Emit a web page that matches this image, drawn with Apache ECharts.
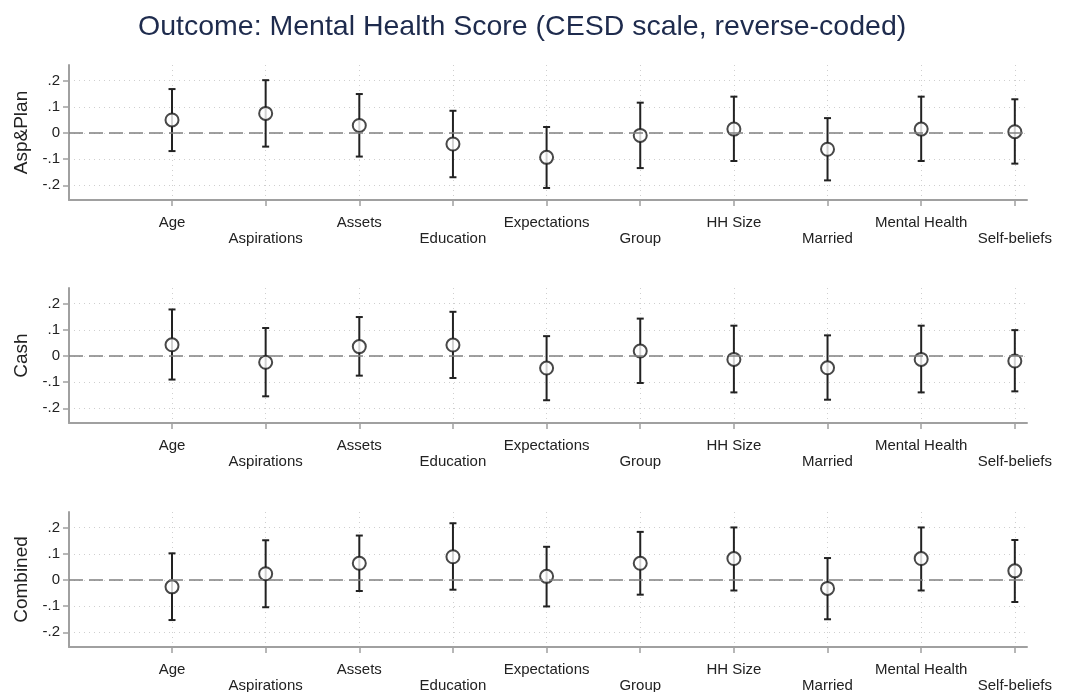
<!DOCTYPE html>
<html>
<head>
<meta charset="utf-8">
<script src="https://cdn.jsdelivr.net/npm/echarts@6/dist/echarts.min.js"></script>
<style>
  html, body { margin: 0; padding: 0; background: #fff; }
  #chart { width: 1065px; height: 692px; }
</style>
</head>
<body>
<div id="chart"></div>
<script>
// categories on the x axis (positions 1..10)
const categories = ['Age', 'Aspirations', 'Assets', 'Education', 'Expectations',
  'Group', 'HH Size', 'Married', 'Mental Health', 'Self-beliefs'];
const panelNames = ['Asp&Plan', 'Cash', 'Combined'];
const yTicks = [-0.2, -0.1, 0, 0.1, 0.2];

// point estimates and 95% CI bounds
const aspEst = [0.050, 0.075, 0.029, -0.042, -0.093, -0.009, 0.015, -0.062, 0.015, 0.005];
const aspLo = [-0.069, -0.052, -0.090, -0.169, -0.210, -0.134, -0.107, -0.181, -0.107, -0.117];
const aspHi = [0.168, 0.202, 0.149, 0.085, 0.023, 0.116, 0.139, 0.057, 0.139, 0.129];

const cashEst = [0.043, -0.024, 0.036, 0.042, -0.046, 0.019, -0.013, -0.045, -0.013, -0.019];
const cashLo = [-0.090, -0.154, -0.075, -0.084, -0.169, -0.103, -0.139, -0.167, -0.139, -0.135];
const cashHi = [0.178, 0.107, 0.149, 0.169, 0.076, 0.143, 0.116, 0.079, 0.116, 0.099];

const combEst = [-0.026, 0.024, 0.064, 0.089, 0.014, 0.064, 0.082, -0.032, 0.082, 0.035];
const combLo = [-0.153, -0.104, -0.042, -0.037, -0.101, -0.056, -0.040, -0.150, -0.040, -0.084];
const combHi = [0.102, 0.152, 0.170, 0.217, 0.127, 0.184, 0.201, 0.084, 0.201, 0.153];

const panels = [
  { est: aspEst, lo: aspLo, hi: aspHi },
  { est: cashEst, lo: cashLo, hi: cashHi },
  { est: combEst, lo: combLo, hi: combHi }
];
const gridTops = [65, 288, 512];
const positions = categories.map((c, i) => i + 1);

const chart = echarts.init(document.getElementById('chart'));
const font = 'Liberation Sans, Arial, sans-serif';
const axisGray = '#a0a0a0';

const grid = [], xAxis = [], yAxis = [], series = [];
panels.forEach((p, k) => {
  grid.push({ left: 69, right: 38, top: gridTops[k], height: 135, outerBoundsMode: 'none' });
  xAxis.push({
    type: 'value',
    gridIndex: k,
    min: -0.1,
    max: 10.13,
    axisLine: { onZero: false, lineStyle: { color: axisGray, width: 2 } },
    axisTick: { customValues: positions, length: 6, lineStyle: { color: axisGray, width: 1.5 } },
    axisLabel: {
      customValues: positions,
      color: '#222',
      fontFamily: font,
      fontSize: 15,
      lineHeight: 16,
      margin: 15,
      formatter: function (v) {
        const i = Math.round(v) - 1;
        return i % 2 ? '\n' + categories[i] : categories[i];
      }
    },
    splitLine: { show: true, lineStyle: { color: '#cfcfcf', type: [1, 4], width: 1 } }
  });
  yAxis.push({
    type: 'value',
    gridIndex: k,
    min: -0.256,
    max: 0.26,
    name: panelNames[k],
    nameLocation: 'middle',
    nameGap: 38,
    nameTextStyle: { color: '#222', fontFamily: font, fontSize: 19 },
    axisLine: { show: true, onZero: false, lineStyle: { color: axisGray, width: 2 } },
    axisTick: { show: true, customValues: yTicks, length: 6, lineStyle: { color: axisGray, width: 1.5 } },
    axisLabel: {
      customValues: yTicks,
      color: '#222',
      fontFamily: font,
      fontSize: 15,
      margin: 9,
      formatter: function (v) {
        if (Math.abs(v) < 1e-9) return '0';
        return (v < 0 ? '-' : '') + String(Math.abs(v).toFixed(1)).replace(/^0/, '');
      }
    },
    splitLine: { show: true, lineStyle: { color: '#cfcfcf', type: [1, 4], width: 1 } }
  });
  // confidence interval bars with caps
  series.push({
    type: 'custom',
    xAxisIndex: k,
    yAxisIndex: k,
    data: positions.map((x, i) => [x, p.lo[i], p.hi[i]]),
    renderItem: function (params, api) {
      const lo = api.coord([api.value(0), api.value(1)]);
      const hi = api.coord([api.value(0), api.value(2)]);
      const cap = 3.5;
      const style = { stroke: '#222', lineWidth: 2 };
      return {
        type: 'group',
        children: [
          { type: 'line', shape: { x1: lo[0], y1: lo[1], x2: hi[0], y2: hi[1] }, style: style },
          { type: 'line', shape: { x1: lo[0] - cap, y1: lo[1], x2: lo[0] + cap, y2: lo[1] }, style: style },
          { type: 'line', shape: { x1: hi[0] - cap, y1: hi[1], x2: hi[0] + cap, y2: hi[1] }, style: style }
        ]
      };
    },
    markLine: {
      silent: true,
      symbol: 'none',
      label: { show: false },
      lineStyle: { color: '#808080', type: [14, 6], width: 1.5 },
      data: [{ yAxis: 0 }]
    },
    z: 2
  });
  // point estimates
  series.push({
    type: 'scatter',
    xAxisIndex: k,
    yAxisIndex: k,
    data: positions.map((x, i) => [x, p.est[i]]),
    symbol: 'circle',
    symbolSize: 13,
    itemStyle: { color: '#fff', borderColor: '#1a1a1a', borderWidth: 2 },
    z: 3
  });
});

chart.setOption({
  animation: false,
  backgroundColor: '#fff',
  title: {
    text: 'Outcome: Mental Health Score (CESD scale, reverse-coded)',
    left: 133,
    top: 8,
    textStyle: { color: '#1e2b4d', fontFamily: font, fontSize: 28.5, fontWeight: 'normal' }
  },
  grid: grid,
  xAxis: xAxis,
  yAxis: yAxis,
  series: series
});
</script>
</body>
</html>
